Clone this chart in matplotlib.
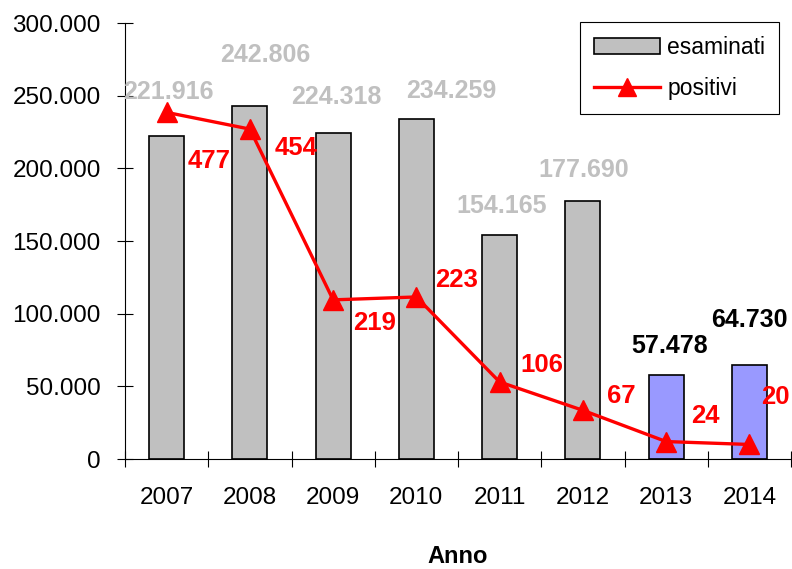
import matplotlib
matplotlib.use("Agg")
import matplotlib.pyplot as plt
from matplotlib.ticker import FuncFormatter, FixedLocator
from matplotlib.patches import Patch
from matplotlib.lines import Line2D

plt.rcParams['font.family'] = ['Liberation Sans', 'DejaVu Sans']

anni = ['2007', '2008', '2009', '2010', '2011', '2012', '2013', '2014']
esaminati = [221916, 242806, 224318, 234259, 154165, 177690, 57478, 64730]
positivi = [477, 454, 219, 223, 106, 67, 24, 20]
esaminati_lbl = ['221.916', '242.806', '224.318', '234.259', '154.165', '177.690', '57.478', '64.730']

# label offsets in pixels (manually placed in the original)
bar_off = [(2, 44), (15, 51), (3, 36), (35, 28), (2, 29), (1, 31), (3, 29), (0, 45)]
line_off = [(43, -49), (46, -19), (41, -23), (40, 17), (42, 17), (38, 14), (39, 26), (26, 47)]

gray = '#C0C0C0'
blue = '#9999FF'
red = '#FF0000'
bar_colors = [gray] * 6 + [blue] * 2
bar_lbl_colors = [gray] * 6 + ['black'] * 2

fig = plt.figure(figsize=(7.92, 5.69), dpi=100)
ax = fig.add_axes([125 / 792, 110 / 569, 666 / 792, 436 / 569])
x = list(range(len(anni)))

ax.bar(x, esaminati, width=0.42, color=bar_colors, edgecolor='black', linewidth=1.2, zorder=2)
ax.set_xlim(-0.5, 7.5)
ax.set_ylim(0, 300000)
ax.set_yticks([0, 50000, 100000, 150000, 200000, 250000, 300000])
ax.yaxis.set_major_formatter(FuncFormatter(lambda v, p: f"{int(v):,}".replace(',', '.')))
ax.tick_params(axis='y', direction='inout', length=11, width=0.8, labelsize=17.5, pad=12)

ax.set_xticks(x)
ax.set_xticklabels(anni, fontsize=17.5)
ax.tick_params(axis='x', which='major', length=0, pad=20)
ax.xaxis.set_minor_locator(FixedLocator([i + 0.5 for i in range(-1, 8)]))
ax.tick_params(axis='x', which='minor', direction='inout', length=12, width=0.8)

for s in ['top', 'right']:
    ax.spines[s].set_visible(False)
ax.spines['left'].set_linewidth(0.8)
ax.spines['bottom'].set_linewidth(0.8)

ax.set_xlabel('Anno', fontsize=17, fontweight='bold', labelpad=26)

for i, v in enumerate(esaminati):
    ax.annotate(esaminati_lbl[i], xy=(i, v), xytext=bar_off[i], textcoords='offset pixels',
                ha='center', va='center', fontsize=18, fontweight='bold',
                color=bar_lbl_colors[i], annotation_clip=False, zorder=5)

ax2 = ax.twinx()
ax2.set_ylim(0, 600)
ax2.set_xlim(-0.5, 7.5)
ax2.axis('off')
ax2.plot(x, positivi, color=red, linewidth=2.4, marker='^', markersize=15,
         markerfacecolor=red, markeredgecolor=red, zorder=4, clip_on=False)
for i, v in enumerate(positivi):
    ax2.annotate(str(v), xy=(i, v), xytext=line_off[i], textcoords='offset pixels',
                 ha='center', va='center', fontsize=18.5, fontweight='bold',
                 color=red, annotation_clip=False)

handles = [Patch(facecolor=gray, edgecolor='black', linewidth=1.2),
           Line2D([0], [0], color=red, linewidth=2.4, marker='^', markersize=13)]
leg = ax2.legend(handles, ['esaminati', 'positivi'], loc='upper right',
                 bbox_to_anchor=(779 / 792, 1 - 22 / 569), bbox_transform=fig.transFigure,
                 borderaxespad=0, fontsize=16.5, frameon=True, fancybox=False, framealpha=1,
                 edgecolor='black', borderpad=0.6, labelspacing=0.8,
                 handlelength=2.9, handletextpad=0.3)
leg.get_frame().set_linewidth(0.8)

fig.savefig('out.png', dpi=100)
